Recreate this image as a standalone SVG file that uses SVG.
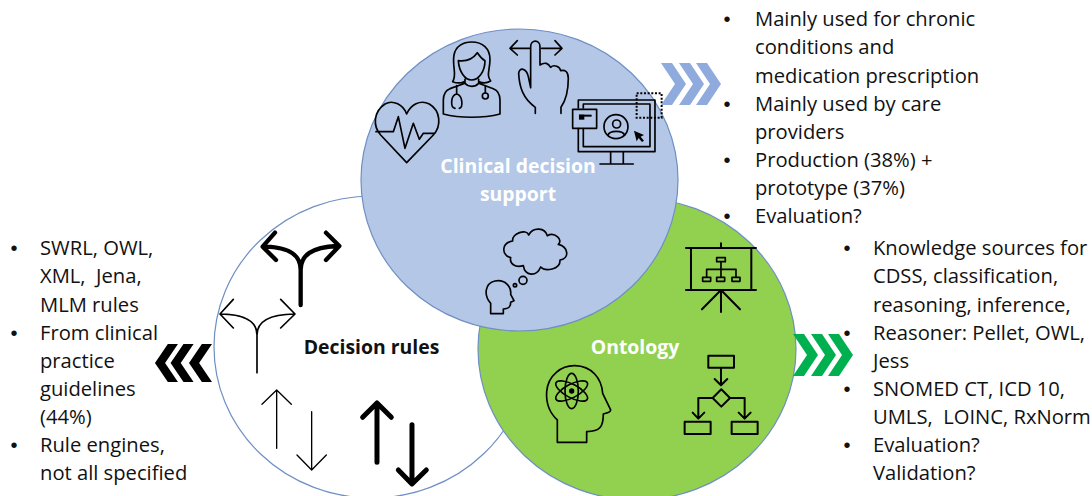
<svg xmlns="http://www.w3.org/2000/svg" width="1092" height="496" viewBox="0 0 1092 496">
<style>
text{font-family:"Open Sans","Noto Sans","Liberation Sans",sans-serif;font-size:20.2px;fill:#111}
.lab{font-weight:700;font-size:19.4px;text-anchor:middle}
.w{fill:#fff}
.b{font-family:"Liberation Sans",sans-serif;font-size:20px;text-anchor:middle}
.c{stroke:#6f8fc4;stroke-width:1.2}
.i{fill:none;stroke:#000;stroke-width:5;stroke-linecap:round;stroke-linejoin:round}
.t{stroke-width:13}
.n{stroke-width:4}
.bf{fill:#000;stroke:none}
</style>
<defs>
<polygon id="chevR" points="0,0 11,0 25,21 11,42 0,42 14,21"/>
</defs>
<rect width="1092" height="496" fill="#fff"/>
<g id="decision-rules">
<ellipse class="c" cx="372" cy="347" rx="158" ry="151" fill="#fff"/>
<text class="lab" x="371.500" y="354">Decision rules</text>
<g transform="translate(200 220) scale(.3333)">
<path class="i t" d="M302 255V150C302 105 270 82 195 80M225 38L188 80L228 120M302 150C302 105 335 82 412 78M378 38L418 78L378 120"/>
<path class="i" d="M171 458V345C171 305 135 283 62 282M100 238L60 282L100 324M171 345C171 305 205 283 284 282M242 238L285 282L242 324"/>
<path class="i n" d="M230 685V512M186 553L230 510L274 553M335 575V748M291 705L335 750L379 705"/>
<path class="i t" style="stroke-width:15" d="M531 727V552M488 592L531 549L574 592M636 614V790M595 750L636 792L679 750"/>
</g>
</g>
<g id="ontology">
<ellipse class="c" cx="637" cy="349" rx="159" ry="151" fill="#92d050"/>
<text class="lab w" x="635" y="354">Ontology</text>
<g transform="translate(520 230) scale(.3333)">
<path class="i" style="stroke-width:6" d="M498 54H708M513 54V180M694 54V180M498 180H708M603 40V54M603 180L546 238M603 180V246M603 180L660 238"/>
<path class="i" d="M590 83H616V95H590ZM548 142H572V154H548ZM590 142H614V154H590ZM636 142H660V154H636ZM603 95V118M560 142V118H648V142M603 118V142"/>
<path class="i" d="M112 637V570C85 545 78 515 80 485C84 435 125 406 165 407C215 408 245 445 248 490L272 540C272 548 255 550 250 552C250 590 240 605 200 605V637Z"/>
<ellipse class="i" cx="155" cy="483" rx="20" ry="53"/>
<ellipse class="i" cx="155" cy="483" rx="20" ry="53" transform="rotate(62 155 483)"/>
<ellipse class="i" cx="155" cy="483" rx="20" ry="53" transform="rotate(-62 155 483)"/>
<circle class="bf" cx="155" cy="483" r="8"/>
<path class="i" style="stroke-width:6" d="M565 377H642V413H565ZM603 413V464M584 447L603 466L622 447M604 478L630 504L604 530L578 504ZM578 504H535V564M518 548L535 566L553 548M630 504H674V564M656 548L674 566L692 548M494 575H572V612H494ZM635 575H713V612H635Z"/>
</g>
</g>
<g id="clinical-decision-support">
<ellipse class="c" cx="519.500" cy="180" rx="158.500" ry="151" fill="#b4c7e7"/>
<text class="lab w" x="518" y="173">Clinical decision</text>
<text class="lab w" x="518" y="201">support</text>
<g transform="translate(360 20) scale(.3333)">
<path class="i" d="M140 428L62 345C38 318 40 275 75 252C100 238 130 255 140 282C152 255 180 238 208 252C242 272 245 318 220 345ZM48 335H100L115 290L135 385L160 310L178 358L190 340H225"/>
<path class="i" d="M278 185C292 165 276 140 282 105C287 78 310 66 335 66C368 66 390 85 390 118C390 150 378 165 392 183C380 190 368 190 358 185M278 185C290 190 302 190 312 185M295 122C320 125 340 115 352 98C360 110 368 118 375 122C375 155 355 180 335 180C315 180 297 155 295 122ZM315 178V190C325 202 345 202 356 190V178M315 190L270 206C255 212 250 225 250 240V282C300 295 370 295 420 282V240C420 225 415 212 400 206L356 190"/>
<path class="i" d="M290 197V222C272 225 270 262 285 265M290 222C308 225 310 262 298 265M376 197V218"/>
<circle class="i" cx="376" cy="228" r="9"/>
<path class="i" d="M512 203V80C512 58 540 58 540 80V135C555 125 565 130 572 142C582 132 600 140 602 152C615 148 625 155 625 175C625 215 615 245 603 262V280M512 203L505 170C500 145 478 140 476 160C478 200 488 235 526 262V280M450 85H508M472 62L450 85L472 105M545 85H606M585 62L606 85L585 105"/>
<path class="i" d="M655 264V240H885V395H655V326M670 326V380H870V252H670V264"/>
<path class="i" d="M752 396V432M790 396V432M720 432H820M638 268H710V325H638Z"/>
<rect class="bf" x="657" y="284" width="38" height="6"/><rect class="bf" x="657" y="284" width="16" height="15"/>
<circle class="i" cx="768" cy="320" r="36"/>
<circle class="i" cx="770" cy="312" r="12"/>
<path class="i" d="M744 346C748 330 790 330 794 346"/>
<path class="bf" d="M822 332L852 345L842 350L852 362L846 366L836 354L830 364Z"/>
<rect x="830" y="220" width="75" height="73" fill="none" stroke="#000" stroke-width="6" stroke-dasharray="6 5"/>
</g>
<g transform="translate(470 215) scale(.3333)">
<path class="i" d="M128 78C125 55 170 40 176 60C190 35 225 38 232 62C255 50 280 75 265 88C295 95 300 130 270 135C272 165 225 170 212 156C200 185 165 185 160 152C135 160 118 145 122 128C95 120 92 85 128 78Z"/>
<circle class="i" cx="159" cy="196" r="12"/>
<circle class="i" cx="135" cy="211" r="5"/>
<path class="i" d="M62 296V265C40 240 45 205 75 198C105 192 125 215 122 238L132 257L122 262C122 278 115 282 100 282V296Z"/>
</g>
</g>
<g id="connectors">
<g fill="#8faadc"><use href="#chevR" x="661" y="63"/><use href="#chevR" x="679" y="63"/><use href="#chevR" x="696" y="63"/></g>
<g fill="#00b050"><use href="#chevR" x="793" y="334"/><use href="#chevR" x="811" y="334"/><use href="#chevR" x="828" y="334"/></g>
<g fill="#000"><g transform="translate(212 344) scale(-.92 .905)"><use href="#chevR" x="0"/><use href="#chevR" x="20"/><use href="#chevR" x="37"/></g></g>
</g>
<g id="text-right-top">
<text class="b" x="727" y="26">•</text><text x="755" y="26">Mainly used for chronic</text>
<text x="755" y="54">conditions and</text>
<text x="755" y="83">medication prescription</text>
<text class="b" x="727" y="111">•</text><text x="755" y="111">Mainly used by care</text>
<text x="755" y="139">providers</text>
<text class="b" x="727" y="167">•</text><text x="755" y="167">Production (38%) +</text>
<text x="755" y="195">prototype (37%)</text>
<text class="b" x="727" y="223">•</text><text x="755" y="223">Evaluation?</text>
</g>
<g id="text-right-bottom">
<text class="b" x="847" y="255">•</text><text x="873" y="255">Knowledge sources for</text>
<text x="873" y="283">CDSS, classification,</text>
<text x="873" y="312">reasoning, inference,</text>
<text class="b" x="847" y="340">•</text><text x="873" y="340">Reasoner: Pellet, OWL,</text>
<text x="873" y="368">Jess</text>
<text class="b" x="847" y="396">•</text><text x="873" y="396">SNOMED CT, ICD 10,</text>
<text x="873" y="424">UMLS,&#160; LOINC, RxNorm</text>
<text class="b" x="847" y="452">•</text><text x="873" y="452">Evaluation?</text>
<text x="873" y="480">Validation?</text>
</g>
<g id="text-left">
<text class="b" x="14" y="255">•</text><text x="40" y="255">SWRL, OWL,</text>
<text x="40" y="283">XML,&#160; Jena,</text>
<text x="40" y="312">MLM rules</text>
<text class="b" x="14" y="340">•</text><text x="40" y="340">From clinical</text>
<text x="40" y="368">practice</text>
<text x="40" y="396">guidelines</text>
<text x="40" y="424">(44%)</text>
<text class="b" x="14" y="452">•</text><text x="40" y="452">Rule engines,</text>
<text x="40" y="480">not all specified</text>
</g>
</svg>
